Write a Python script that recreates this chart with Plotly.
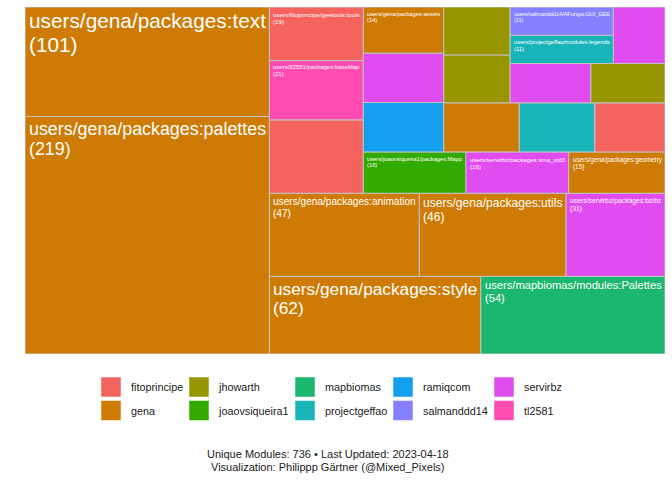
import plotly.graph_objects as go

# ---------------- data ----------------
owners = ["gena", "gena", "gena", "mapbiomas", "gena", "gena", "servirbz",
          "fitoprincipe", "tl2581", "fitoprincipe", "joaovsiqueira1", "servirbz",
          "gena", "ramiqcom", "servirbz", "gena", "gena", "projectgeffao",
          "fitoprincipe", "jhowarth", "jhowarth", "servirbz", "jhowarth",
          "projectgeffao", "salmanddd14", "servirbz"]
modules = ["users/gena/packages:palettes", "users/gena/packages:text",
           "users/gena/packages:style", "users/mapbiomas/modules:Palettes",
           "users/gena/packages:animation", "users/gena/packages:utils",
           "users/servirbz/packages:bz/bz", "", "users/tl2581/packages:baseMap",
           "users/fitoprincipe/geetools:tools", "users/joaovsiqueira1/packages:Mapp",
           "users/servirbz/packages:sma_std3", "users/gena/packages:geometry",
           "", "", "users/gena/packages:assets", "", "", "", "", "", "", "",
           "users/projectgeffao/modules:legends", "users/salmanddd14/AFungsi:GUI_GEE", ""]
counts = [219, 101, 62, 54, 47, 46, 31, 26, 21, 19, 16, 16, 15, 15, 15, 14, 14, 14,
          13, 12, 12, 12, 11, 11, 11, 11]

legend_owners = ["fitoprincipe", "gena", "jhowarth", "joaovsiqueira1", "mapbiomas",
                 "projectgeffao", "ramiqcom", "salmanddd14", "servirbz", "tl2581"]
owner_colors = ["#F4635E", "#CD7B05", "#979600", "#33AA00", "#1BB76E",
                "#18B4B7", "#15A0EF", "#8480FF", "#E14CF0", "#FF4BB2"]
caption_lines = ["Unique Modules: 736 \u2022 Last Updated: 2023-04-18",
                 "Visualization: Philippp G\u00e4rtner (@Mixed_Pixels)"]

# ---------------- geometry constants ----------------
W, H = 672, 480
ML, MR, MT, MB = 25, 7, 7, 126
PW, PH = W - ML - MR, H - MT - MB
PAD = 3.6
FONT = "Liberation Sans, Arial, Helvetica, sans-serif"
BORDER = "#C2C2C2"

# Arial advance widths (1/1000 em)
_w = {}
for ch, v in zip("abcdefghijklmnopqrstuvwxyz",
                 [556, 556, 500, 556, 556, 278, 556, 556, 222, 222, 500, 222, 833,
                  556, 556, 556, 556, 333, 500, 278, 556, 500, 722, 500, 500, 500]):
    _w[ch] = v
for ch, v in zip("ABCDEFGHIJKLMNOPQRSTUVWXYZ",
                 [667, 667, 722, 722, 667, 611, 778, 722, 278, 500, 667, 556, 833,
                  722, 778, 667, 778, 722, 667, 611, 722, 667, 944, 667, 667, 611]):
    _w[ch] = v
for ch in "0123456789":
    _w[ch] = 556
_w.update({"/": 278, ":": 278, "_": 556, "(": 333, ")": 333, ".": 278, "-": 333, " ": 278})


def em_width(s):
    return sum(_w.get(c, 556) for c in s) / 1000.0


# ---------------- squarified layout (unit square, y up) ----------------
def worst(row, side):
    s = sum(row)
    return max(side * side * max(row) / (s * s), (s * s) / (side * side * min(row)))


def squarify(areas):
    rects = []
    x, y, w, h = 0.0, 0.0, 1.0, 1.0
    i, n = 0, len(areas)
    while i < n:
        side = min(w, h)
        row = [areas[i]]
        i += 1
        while i < n and worst(row + [areas[i]], side) <= worst(row, side):
            row.append(areas[i])
            i += 1
        s = sum(row)
        if w >= h:
            t = s / h
            yy = y
            for a in row:
                rects.append((x, yy, t, a / t))
                yy += a / t
            x += t
            w -= t
        else:
            t = s / w
            xx = x
            for a in row:
                rects.append((xx, y, a / t, t))
                xx += a / t
            y += t
            h -= t
    return rects


order = sorted(range(len(counts)), key=lambda k: -counts[k])
total = float(sum(counts))
rects = squarify([counts[k] / total for k in order])

color_of = dict(zip(legend_owners, owner_colors))

fig = go.Figure()
annotations = []
for k, (x0, y0, w, h) in zip(order, rects):
    x1, y1 = x0 + w, y0 + h
    fig.add_trace(go.Scatter(
        x=[x0, x1, x1, x0, x0], y=[y0, y0, y1, y1, y0],
        mode="lines", fill="toself", fillcolor=color_of[owners[k]],
        line=dict(color=BORDER, width=1),
        hoverinfo="text",
        text=f"{modules[k] or owners[k]} ({counts[k]})",
        showlegend=False))
    if modules[k]:
        wpx, hpx = w * PW, h * PH
        size = min((wpx - 2 * PAD) / em_width(modules[k]), (hpx - 2 * PAD) / 2.2)
        ys1 = -(PAD - 0.135 * size)
        ys2 = ys1 - 1.14 * size
        for txt, ys in ((modules[k], ys1), (f"({counts[k]})", ys2)):
            annotations.append(dict(
                x=x0, y=y1, xref="x", yref="y", text=txt, showarrow=False,
                xanchor="left", yanchor="top", xshift=PAD - 0.8, yshift=ys,
                borderpad=0, font=dict(family=FONT, size=size, color="white")))

# ---------------- legends: 5 columns x 2 rows ----------------
key_centers_px = [112, 200, 306, 404, 505]
legend_top_px = 372.5
layout_legends = {}
for c in range(5):
    lname = "legend" if c == 0 else f"legend{c + 1}"
    for r in range(2):
        o = legend_owners[2 * c + r]
        fig.add_trace(go.Scatter(
            x=[None], y=[None], mode="markers", name=o, legend=lname,
            legendgroup=o,
            marker=dict(symbol="square", size=16, color=color_of[o],
                        line=dict(color=color_of[o], width=3.5)),
            hoverinfo="skip"))
    layout_legends[lname] = dict(
        x=(key_centers_px[c] - 21 - ML) / PW, y=(MT + PH - legend_top_px) / PH,
        xanchor="left", yanchor="top", orientation="v", tracegroupgap=4.5,
        bgcolor="rgba(0,0,0,0)", font=dict(family=FONT, size=10.8, color="#1A1A1A"),
        itemclick=False, itemdoubleclick=False)

# caption
for txt, mid_px in zip(caption_lines, [454.2, 467.2]):
    annotations.append(dict(
        x=(327.5 - ML) / PW, y=(MT + PH - mid_px) / PH, xref="paper", yref="paper",
        text=txt, showarrow=False, xanchor="center", yanchor="middle",
        font=dict(family=FONT, size=11, color="#1A1A1A")))

fig.update_layout(
    width=W, height=H,
    margin=dict(l=ML, r=MR, t=MT, b=MB, autoexpand=False),
    paper_bgcolor="white", plot_bgcolor="white",
    xaxis=dict(range=[0, 1], visible=False, fixedrange=True),
    yaxis=dict(range=[0, 1], visible=False, fixedrange=True),
    annotations=annotations, hovermode="closest",
    **layout_legends)

fig.write_html("out.html", config={"displayModeBar": False},
               post_script="document.body.style.margin='0';")
